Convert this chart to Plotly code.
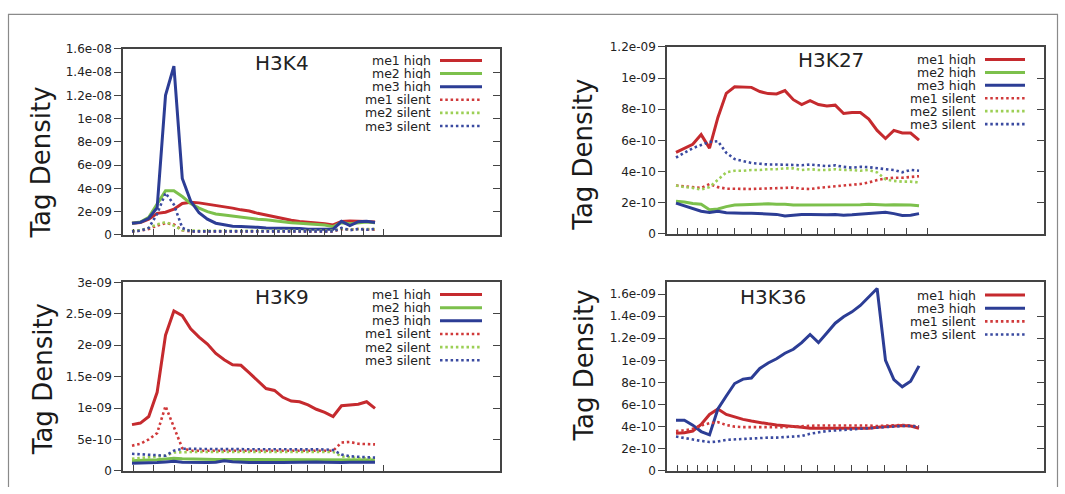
import plotly.graph_objects as go

# ---------------- data (values in units of the panel's scale) ----------------
bins = list(range(30))

# H3K4 (x 1e-9)
h3k4_me1_high = [1.0, 1.05, 1.35, 1.85, 1.95, 2.2, 2.7, 2.8, 2.75, 2.65, 2.5, 2.4, 2.3, 2.15, 2.05,
                 1.85, 1.7, 1.55, 1.35, 1.25, 1.15, 1.1, 1.05, 0.95, 0.85, 1.15, 1.2, 1.2, 1.15, 1.1]
h3k4_me2_high = [1.0, 1.1, 1.5, 2.6, 3.8, 3.8, 3.3, 2.7, 2.3, 2.0, 1.8, 1.7, 1.6, 1.5, 1.45,
                 1.35, 1.3, 1.2, 1.1, 1.05, 1.0, 0.95, 0.9, 0.85, 0.7, 1.05, 0.95, 1.05, 1.1, 1.05]
h3k4_me3_high = [0.99, 1.07, 1.43, 2.33, 12.0, 14.5, 4.85, 2.9, 1.9, 1.35, 1.0, 0.85, 0.74, 0.71, 0.65,
                 0.65, 0.6, 0.6, 0.57, 0.54, 0.54, 0.49, 0.49, 0.49, 0.49, 1.16, 0.8, 1.13, 1.16, 1.07]
h3k4_me1_silent = [0.3, 0.35, 0.5, 0.8, 1.0, 0.9, 0.4, 0.3, 0.3, 0.3, 0.3, 0.3, 0.3, 0.3, 0.3,
                   0.3, 0.3, 0.3, 0.3, 0.3, 0.3, 0.3, 0.3, 0.3, 0.3, 0.5, 0.45, 0.5, 0.45, 0.45]
h3k4_me2_silent = [0.35, 0.4, 0.6, 0.9, 1.1, 0.8, 0.4, 0.35, 0.35, 0.35, 0.35, 0.35, 0.35, 0.35, 0.35,
                   0.35, 0.35, 0.35, 0.35, 0.35, 0.35, 0.35, 0.35, 0.35, 0.35, 0.55, 0.45, 0.5, 0.5, 0.5]
h3k4_me3_silent = [0.3, 0.35, 0.6, 1.8, 3.6, 2.6, 0.6, 0.3, 0.3, 0.3, 0.3, 0.3, 0.3, 0.3, 0.3,
                   0.3, 0.3, 0.3, 0.3, 0.3, 0.3, 0.3, 0.3, 0.3, 0.3, 0.6, 0.4, 0.5, 0.45, 0.5]

# H3K27 (x 1e-10)
h3k27_me1_high = [5.23, 5.48, 5.75, 6.37, 5.5, 7.47, 9.02, 9.44, 9.44, 9.4, 9.13, 9.0, 8.98, 9.19, 8.61,
                  8.3, 8.55, 8.3, 8.2, 8.26, 7.72, 7.78, 7.78, 7.37, 6.64, 6.12, 6.64, 6.47, 6.47, 6.02]
h3k27_me2_high = [2.1, 2.05, 1.95, 1.9, 1.55, 1.6, 1.75, 1.85, 1.87, 1.9, 1.92, 1.93, 1.9, 1.9, 1.85,
                  1.85, 1.87, 1.85, 1.85, 1.85, 1.87, 1.85, 1.87, 1.9, 1.87, 1.85, 1.87, 1.87, 1.85, 1.8]
h3k27_me3_high = [1.97, 1.8, 1.6, 1.45, 1.38, 1.45, 1.35, 1.32, 1.33, 1.32, 1.3, 1.28, 1.25, 1.15, 1.2,
                  1.25, 1.25, 1.22, 1.22, 1.25, 1.2, 1.22, 1.25, 1.3, 1.35, 1.38, 1.3, 1.18, 1.2, 1.3]
h3k27_me1_silent = [3.1, 3.05, 3.0, 2.95, 3.2, 3.0, 2.9, 2.88, 2.88, 2.88, 2.9, 2.92, 2.93, 2.95, 2.97,
                    2.9, 2.88, 2.95, 3.0, 3.05, 3.1, 3.15, 3.2, 3.3, 3.45, 3.55, 3.6, 3.6, 3.65, 3.7]
h3k27_me2_silent = [3.1, 3.0, 2.95, 2.85, 3.0, 3.5, 3.95, 4.05, 4.05, 4.1, 4.1, 4.15, 4.15, 4.2, 4.2,
                    4.1, 4.15, 4.1, 4.1, 4.15, 4.1, 4.1, 4.05, 4.1, 3.95, 3.5, 3.4, 3.35, 3.35, 3.3]
h3k27_me3_silent = [4.9, 5.2, 5.5, 5.7, 5.9, 5.95, 5.2, 4.8, 4.65, 4.55, 4.5, 4.45, 4.45, 4.45, 4.42,
                    4.4, 4.45, 4.4, 4.35, 4.4, 4.3, 4.25, 4.3, 4.28, 4.2, 4.15, 4.1, 3.95, 4.1, 4.05]

# H3K9 (x 1e-10)
h3k9_me1_high = [7.35, 7.6, 8.64, 12.5, 21.6, 25.45, 24.7, 22.6, 21.3, 20.2, 18.7, 17.7, 16.9, 16.8, 15.6,
                 14.3, 13.1, 12.8, 11.7, 11.1, 11.0, 10.5, 9.8, 9.3, 8.64, 10.35, 10.45, 10.6, 11.0, 9.93]
h3k9_me2_high = [1.6, 1.6, 1.7, 1.75, 1.9, 2.0, 1.9, 1.85, 1.8, 1.8, 1.8, 1.8, 1.8, 1.8, 1.8,
                 1.8, 1.8, 1.8, 1.8, 1.8, 1.8, 1.8, 1.8, 1.8, 1.8, 1.75, 1.75, 1.7, 1.7, 1.7]
h3k9_me3_high = [1.2, 1.2, 1.25, 1.3, 1.4, 1.5, 1.35, 1.3, 1.3, 1.3, 1.35, 1.6, 1.45, 1.35, 1.3,
                 1.3, 1.35, 1.3, 1.3, 1.35, 1.3, 1.35, 1.4, 1.35, 1.3, 1.3, 1.35, 1.35, 1.3, 1.35]
h3k9_me1_silent = [4.0, 4.3, 5.0, 6.0, 10.3, 7.0, 3.6, 3.2, 3.2, 3.2, 3.2, 3.15, 3.15, 3.15, 3.1,
                   3.1, 3.1, 3.1, 3.1, 3.1, 3.1, 3.1, 3.1, 3.1, 3.2, 4.5, 4.6, 4.3, 4.2, 4.2]
h3k9_me2_silent = [1.9, 2.0, 2.1, 2.2, 2.4, 2.9, 3.0, 3.0, 3.0, 3.0, 3.0, 3.0, 3.0, 3.0, 3.0,
                   3.0, 3.0, 3.0, 3.0, 3.0, 3.0, 3.0, 3.0, 3.0, 3.0, 2.3, 2.1, 2.0, 2.0, 1.9]
h3k9_me3_silent = [2.7, 2.6, 2.5, 2.4, 2.4, 3.2, 3.5, 3.5, 3.45, 3.45, 3.45, 3.45, 3.45, 3.45, 3.45,
                   3.4, 3.4, 3.4, 3.4, 3.4, 3.4, 3.4, 3.4, 3.4, 3.3, 2.6, 2.3, 2.2, 2.1, 2.1]

# H3K36 (x 1e-10)
h3k36_me1_high = [3.4, 3.45, 3.6, 4.2, 5.1, 5.6, 5.1, 4.85, 4.65, 4.5, 4.35, 4.25, 4.15, 4.1, 4.05,
                  3.95, 3.85, 3.85, 3.85, 3.8, 3.8, 3.8, 3.8, 3.85, 3.95, 4.0, 4.05, 4.1, 4.05, 3.85]
h3k36_me3_high = [4.57, 4.57, 4.13, 3.55, 3.25, 5.6, 6.77, 7.9, 8.3, 8.4, 9.26, 9.76, 10.14, 10.64, 11.0,
                  11.6, 12.34, 11.6, 12.48, 13.36, 13.95, 14.39, 14.97, 15.7, 16.5, 10.0, 8.25, 7.6, 8.1, 9.5]
h3k36_me1_silent = [3.6, 3.65, 3.8, 4.1, 4.3, 4.4, 4.15, 4.0, 3.95, 3.95, 3.9, 3.9, 3.95, 3.95, 4.0,
                    4.05, 4.1, 4.1, 4.1, 4.1, 4.15, 4.15, 4.15, 4.1, 4.05, 4.1, 4.1, 4.15, 4.1, 4.0]
h3k36_me3_silent = [3.1, 2.95, 2.85, 2.7, 2.6, 2.65, 2.8, 2.85, 2.9, 2.95, 2.95, 3.0, 3.0, 3.05, 3.1,
                    3.15, 3.35, 3.5, 3.6, 3.65, 3.7, 3.75, 3.8, 3.85, 3.95, 4.0, 4.05, 4.05, 4.05, 4.0]

# tick labels
h3k4_ticks = ["0", "2e-09", "4e-09", "6e-09", "8e-09", "1e-08", "1.2e-08", "1.4e-08", "1.6e-08"]
h3k27_ticks = ["0", "2e-10", "4e-10", "6e-10", "8e-10", "1e-09", "1.2e-09"]
h3k9_ticks = ["0", "5e-10", "1e-09", "1.5e-09", "2e-09", "2.5e-09", "3e-09"]
h3k36_ticks = ["0", "2e-10", "4e-10", "6e-10", "8e-10", "1e-09", "1.2e-09", "1.4e-09", "1.6e-09"]

# ---------------- styling / layout ----------------
W, H = 1065, 494
RED, GREEN, BLUE = "#c52a2e", "#7cc04c", "#2c3d95"
RED_D, GREEN_D, BLUE_D = "#d0393a", "#9ccf55", "#3a4aa0"
FONT = "DejaVu Sans"
DOT = "2.5px,2.8px"

def px(x):
    return x / W

def py(y):
    return 1 - y / H

BIN0 = 9.0      # pixel offset of first bin from the left axis
BINW = 8.38     # pixel width of one bin
PW = 377.0      # plot width in pixels

def rel_to_bin(r):
    return (r - BIN0) / BINW

xrange_bins = [rel_to_bin(0), rel_to_bin(PW)]

panels = [
    dict(name="H3K4", scale=1e-9, ymax=1.6e-8, tstep=2e-9, ticks=h3k4_ticks,
         box=(123, 43, 500, 234.5), title_xy=(282, 58), ytitle_xy=(41, 160),
         leg_x=432, leg_line=(440, 482), leg_y=[55, 68.5, 82, 95.5, 109, 122.5],
         xt=[10, 30, 51, 68, 84, 101, 118, 134, 151, 168, 184, 201, 218, 240, 260],
         series=[("me1 high", h3k4_me1_high, RED, None), ("me2 high", h3k4_me2_high, GREEN, None),
                 ("me3 high", h3k4_me3_high, BLUE, None), ("me1 silent", h3k4_me1_silent, RED_D, DOT),
                 ("me2 silent", h3k4_me2_silent, GREEN_D, DOT), ("me3 silent", h3k4_me3_silent, BLUE_D, DOT)]),
    dict(name="H3K27", scale=1e-10, ymax=1.2e-9, tstep=2e-10, ticks=h3k27_ticks,
         box=(667, 41, 1044, 233.5), title_xy=(831, 55), ytitle_xy=(583, 152),
         leg_x=977, leg_line=(985, 1025), leg_y=[54, 67.3, 80.6, 93.9, 107.2, 120.5],
         xt=[10, 20, 30, 40, 50, 67, 84, 100, 117, 134, 150, 167, 184, 200, 217, 239, 260],
         series=[("me1 high", h3k27_me1_high, RED, None), ("me2 high", h3k27_me2_high, GREEN, None),
                 ("me3 high", h3k27_me3_high, BLUE, None), ("me1 silent", h3k27_me1_silent, RED_D, DOT),
                 ("me2 silent", h3k27_me2_silent, GREEN_D, DOT), ("me3 silent", h3k27_me3_silent, BLUE_D, DOT)]),
    dict(name="H3K9", scale=1e-10, ymax=3e-9, tstep=5e-10, ticks=h3k9_ticks,
         box=(123, 283.5, 500, 477.3), title_xy=(282, 298), ytitle_xy=(43, 383),
         leg_x=432, leg_line=(440, 482), leg_y=[296, 309.5, 323, 336.5, 350, 363.5],
         xt=[10, 30, 51, 68, 84, 101, 118, 134, 151, 168, 184, 201, 218, 240, 260],
         series=[("me1 high", h3k9_me1_high, RED, None), ("me2 high", h3k9_me2_high, GREEN, None),
                 ("me3 high", h3k9_me3_high, BLUE, None), ("me1 silent", h3k9_me1_silent, RED_D, DOT),
                 ("me2 silent", h3k9_me2_silent, GREEN_D, DOT), ("me3 silent", h3k9_me3_silent, BLUE_D, DOT)]),
    dict(name="H3K36", scale=1e-10, ymax=1.705e-9, tstep=2e-10, ticks=h3k36_ticks,
         box=(667, 283.5, 1044, 477.3), title_xy=(773, 298), ytitle_xy=(584, 369),
         leg_x=977, leg_line=(985, 1025), leg_y=[296.5, 310, 323.5, 337],
         xt=[10, 20, 30, 40, 50, 67, 84, 100, 117, 134, 150, 167, 184, 200, 217, 239, 260],
         series=[("me1 high", h3k36_me1_high, RED, None), ("me3 high", h3k36_me3_high, BLUE, None),
                 ("me1 silent", h3k36_me1_silent, RED_D, DOT), ("me3 silent", h3k36_me3_silent, BLUE_D, DOT)]),
]

fig = go.Figure()
layout = dict(width=W, height=H, margin=dict(l=0, r=0, t=0, b=0),
              paper_bgcolor="white", plot_bgcolor="white", showlegend=False)
annotations = []
shapes = []

AX_COLOR = "#444444"
for k, p in enumerate(panels):
    n = k + 1
    xa = "x" if n == 1 else f"x{n}"
    ya = "y" if n == 1 else f"y{n}"
    ra = f"y{n + 4}"
    x0, y0, x1, y1 = p["box"]
    for (label, vals, color, dash) in p["series"]:
        fig.add_trace(go.Scatter(
            x=bins, y=[v * p["scale"] for v in vals], mode="lines", name=label,
            xaxis=xa, yaxis=ya,
            line=dict(color=color, width=3 if dash is None else 2.6, dash=dash or "solid"),
            hoverinfo="skip"))
    # empty trace for overlay right-side axis
    fig.add_trace(go.Scatter(x=[], y=[], xaxis=xa, yaxis=ra, hoverinfo="skip"))

    tickvals_y = [i * p["tstep"] for i in range(len(p["ticks"]))]
    xkey = "xaxis" if n == 1 else f"xaxis{n}"
    ykey = "yaxis" if n == 1 else f"yaxis{n}"
    rkey = f"yaxis{n + 4}"
    layout[xkey] = dict(domain=[px(x0), px(x1)], anchor=ya, range=xrange_bins,
                        showgrid=False, zeroline=False, showline=True, mirror=True,
                        linecolor=AX_COLOR, linewidth=1.6,
                        tickmode="array", tickvals=[rel_to_bin(t) for t in p["xt"]],
                        ticks="inside", ticklen=6, tickwidth=1.4, tickcolor=AX_COLOR,
                        showticklabels=False)
    layout[ykey] = dict(domain=[py(y1), py(y0)], anchor=xa, range=[0, p["ymax"]],
                        showgrid=False, zeroline=False, showline=True, mirror=True,
                        linecolor=AX_COLOR, linewidth=1.6,
                        tickmode="array", tickvals=tickvals_y, ticktext=p["ticks"],
                        ticks="outside", ticklen=7, tickwidth=1.4, tickcolor=AX_COLOR,
                        tickfont=dict(family=FONT, size=12, color="#222222"))
    layout[rkey] = dict(overlaying=ya, anchor=xa, side="right", range=[0, p["ymax"]],
                        showgrid=False, zeroline=False, showline=False,
                        tickmode="array", tickvals=tickvals_y[1:-1],
                        ticks="inside", ticklen=7, tickwidth=1.4, tickcolor=AX_COLOR,
                        showticklabels=False)

    # panel title
    tx, ty = p["title_xy"]
    annotations.append(dict(x=px(tx), y=py(ty), xref="paper", yref="paper", text=p["name"],
                            showarrow=False, xanchor="center", yanchor="middle",
                            font=dict(family=FONT, size=20, color="#222222")))
    # y axis title
    ax_, ay_ = p["ytitle_xy"]
    annotations.append(dict(x=px(ax_), y=py(ay_), xref="paper", yref="paper", text="Tag Density",
                            showarrow=False, xanchor="center", yanchor="middle", textangle=-90,
                            font=dict(family=FONT, size=26, color="#1a1a1a")))
    # manual legend: text then line sample
    lx0, lx1 = p["leg_line"]
    for (label, vals, color, dash), ly in zip(p["series"], p["leg_y"]):
        annotations.append(dict(x=px(p["leg_x"]), y=py(ly), xref="paper", yref="paper", text=label,
                                showarrow=False, xanchor="right", yanchor="middle",
                                height=11, borderpad=0, valign="middle",
                                font=dict(family=FONT, size=12.5, color="#222222")))
        shapes.append(dict(type="line", xref="paper", yref="paper",
                           x0=px(lx0), x1=px(lx1), y0=py(ly), y1=py(ly),
                           line=dict(color=color, width=3 if dash is None else 2.6,
                                     dash=dash or "solid")))

# outer frame of the figure
shapes.append(dict(type="path", xref="paper", yref="paper",
                   path=f"M {px(8.5)} {py(494)} L {px(8.5)} {py(7.5)} L {px(1057.5)} {py(7.5)} L {px(1057.5)} {py(494)}",
                   line=dict(color="#8a8a8a", width=1.2)))

layout["annotations"] = annotations
layout["shapes"] = shapes
fig.update_layout(**layout)
fig.write_html("out.html")
